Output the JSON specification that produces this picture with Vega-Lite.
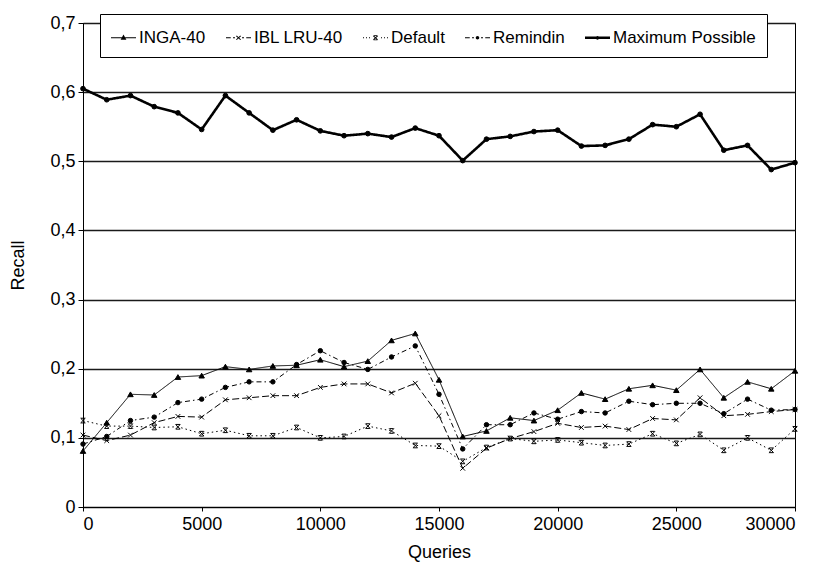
{
  "$schema": "https://vega.github.io/schema/vega-lite/v6.json",
  "width": 712,
  "height": 484,
  "autosize": "none",
  "padding": {"left": 83, "top": 23, "right": 30, "bottom": 60},
  "background": "white",
  "config": {
    "view": {"stroke": "black", "strokeWidth": 1},
    "font": "Liberation Sans",
    "axis": {
      "labelFont": "Liberation Sans", "titleFont": "Liberation Sans",
      "labelFontSize": 18, "titleFontSize": 18, "titleFontWeight": "normal",
      "labelColor": "black", "titleColor": "black",
      "domainColor": "black", "tickColor": "black", "tickSize": 5
    }
  },
  "data": {"values": [
    {"q":0,"s":"INGA-40","v":0.081},{"q":1000,"s":"INGA-40","v":0.122},{"q":2000,"s":"INGA-40","v":0.163},{"q":3000,"s":"INGA-40","v":0.162},{"q":4000,"s":"INGA-40","v":0.188},{"q":5000,"s":"INGA-40","v":0.190},{"q":6000,"s":"INGA-40","v":0.203},{"q":7000,"s":"INGA-40","v":0.199},{"q":8000,"s":"INGA-40","v":0.204},{"q":9000,"s":"INGA-40","v":0.205},{"q":10000,"s":"INGA-40","v":0.213},{"q":11000,"s":"INGA-40","v":0.203},{"q":12000,"s":"INGA-40","v":0.211},{"q":13000,"s":"INGA-40","v":0.241},{"q":14000,"s":"INGA-40","v":0.251},{"q":15000,"s":"INGA-40","v":0.184},{"q":16000,"s":"INGA-40","v":0.102},{"q":17000,"s":"INGA-40","v":0.110},{"q":18000,"s":"INGA-40","v":0.129},{"q":19000,"s":"INGA-40","v":0.125},{"q":20000,"s":"INGA-40","v":0.140},{"q":21000,"s":"INGA-40","v":0.165},{"q":22000,"s":"INGA-40","v":0.156},{"q":23000,"s":"INGA-40","v":0.171},{"q":24000,"s":"INGA-40","v":0.176},{"q":25000,"s":"INGA-40","v":0.169},{"q":26000,"s":"INGA-40","v":0.199},{"q":27000,"s":"INGA-40","v":0.158},{"q":28000,"s":"INGA-40","v":0.181},{"q":29000,"s":"INGA-40","v":0.171},{"q":30000,"s":"INGA-40","v":0.197},
    {"q":0,"s":"IBL LRU-40","v":0.104},{"q":1000,"s":"IBL LRU-40","v":0.096},{"q":2000,"s":"IBL LRU-40","v":0.104},{"q":3000,"s":"IBL LRU-40","v":0.122},{"q":4000,"s":"IBL LRU-40","v":0.131},{"q":5000,"s":"IBL LRU-40","v":0.130},{"q":6000,"s":"IBL LRU-40","v":0.155},{"q":7000,"s":"IBL LRU-40","v":0.158},{"q":8000,"s":"IBL LRU-40","v":0.161},{"q":9000,"s":"IBL LRU-40","v":0.161},{"q":10000,"s":"IBL LRU-40","v":0.173},{"q":11000,"s":"IBL LRU-40","v":0.178},{"q":12000,"s":"IBL LRU-40","v":0.178},{"q":13000,"s":"IBL LRU-40","v":0.165},{"q":14000,"s":"IBL LRU-40","v":0.179},{"q":15000,"s":"IBL LRU-40","v":0.132},{"q":16000,"s":"IBL LRU-40","v":0.056},{"q":17000,"s":"IBL LRU-40","v":0.085},{"q":18000,"s":"IBL LRU-40","v":0.099},{"q":19000,"s":"IBL LRU-40","v":0.109},{"q":20000,"s":"IBL LRU-40","v":0.121},{"q":21000,"s":"IBL LRU-40","v":0.115},{"q":22000,"s":"IBL LRU-40","v":0.117},{"q":23000,"s":"IBL LRU-40","v":0.112},{"q":24000,"s":"IBL LRU-40","v":0.128},{"q":25000,"s":"IBL LRU-40","v":0.126},{"q":26000,"s":"IBL LRU-40","v":0.158},{"q":27000,"s":"IBL LRU-40","v":0.132},{"q":28000,"s":"IBL LRU-40","v":0.134},{"q":29000,"s":"IBL LRU-40","v":0.138},{"q":30000,"s":"IBL LRU-40","v":0.141},
    {"q":0,"s":"Default","v":0.125},{"q":1000,"s":"Default","v":0.117},{"q":2000,"s":"Default","v":0.117},{"q":3000,"s":"Default","v":0.115},{"q":4000,"s":"Default","v":0.116},{"q":5000,"s":"Default","v":0.106},{"q":6000,"s":"Default","v":0.111},{"q":7000,"s":"Default","v":0.103},{"q":8000,"s":"Default","v":0.103},{"q":9000,"s":"Default","v":0.115},{"q":10000,"s":"Default","v":0.100},{"q":11000,"s":"Default","v":0.102},{"q":12000,"s":"Default","v":0.117},{"q":13000,"s":"Default","v":0.110},{"q":14000,"s":"Default","v":0.089},{"q":15000,"s":"Default","v":0.088},{"q":16000,"s":"Default","v":0.066},{"q":17000,"s":"Default","v":0.086},{"q":18000,"s":"Default","v":0.099},{"q":19000,"s":"Default","v":0.095},{"q":20000,"s":"Default","v":0.097},{"q":21000,"s":"Default","v":0.093},{"q":22000,"s":"Default","v":0.089},{"q":23000,"s":"Default","v":0.091},{"q":24000,"s":"Default","v":0.106},{"q":25000,"s":"Default","v":0.092},{"q":26000,"s":"Default","v":0.105},{"q":27000,"s":"Default","v":0.082},{"q":28000,"s":"Default","v":0.100},{"q":29000,"s":"Default","v":0.082},{"q":30000,"s":"Default","v":0.113},
    {"q":0,"s":"Remindin","v":0.091},{"q":1000,"s":"Remindin","v":0.102},{"q":2000,"s":"Remindin","v":0.125},{"q":3000,"s":"Remindin","v":0.130},{"q":4000,"s":"Remindin","v":0.151},{"q":5000,"s":"Remindin","v":0.156},{"q":6000,"s":"Remindin","v":0.173},{"q":7000,"s":"Remindin","v":0.181},{"q":8000,"s":"Remindin","v":0.181},{"q":9000,"s":"Remindin","v":0.206},{"q":10000,"s":"Remindin","v":0.226},{"q":11000,"s":"Remindin","v":0.209},{"q":12000,"s":"Remindin","v":0.199},{"q":13000,"s":"Remindin","v":0.217},{"q":14000,"s":"Remindin","v":0.233},{"q":15000,"s":"Remindin","v":0.163},{"q":16000,"s":"Remindin","v":0.084},{"q":17000,"s":"Remindin","v":0.119},{"q":18000,"s":"Remindin","v":0.119},{"q":19000,"s":"Remindin","v":0.136},{"q":20000,"s":"Remindin","v":0.127},{"q":21000,"s":"Remindin","v":0.138},{"q":22000,"s":"Remindin","v":0.136},{"q":23000,"s":"Remindin","v":0.153},{"q":24000,"s":"Remindin","v":0.148},{"q":25000,"s":"Remindin","v":0.150},{"q":26000,"s":"Remindin","v":0.150},{"q":27000,"s":"Remindin","v":0.135},{"q":28000,"s":"Remindin","v":0.156},{"q":29000,"s":"Remindin","v":0.140},{"q":30000,"s":"Remindin","v":0.141},
    {"q":0,"s":"Maximum Possible","v":0.605},{"q":1000,"s":"Maximum Possible","v":0.589},{"q":2000,"s":"Maximum Possible","v":0.595},{"q":3000,"s":"Maximum Possible","v":0.579},{"q":4000,"s":"Maximum Possible","v":0.570},{"q":5000,"s":"Maximum Possible","v":0.546},{"q":6000,"s":"Maximum Possible","v":0.595},{"q":7000,"s":"Maximum Possible","v":0.570},{"q":8000,"s":"Maximum Possible","v":0.545},{"q":9000,"s":"Maximum Possible","v":0.560},{"q":10000,"s":"Maximum Possible","v":0.544},{"q":11000,"s":"Maximum Possible","v":0.537},{"q":12000,"s":"Maximum Possible","v":0.540},{"q":13000,"s":"Maximum Possible","v":0.535},{"q":14000,"s":"Maximum Possible","v":0.548},{"q":15000,"s":"Maximum Possible","v":0.537},{"q":16000,"s":"Maximum Possible","v":0.501},{"q":17000,"s":"Maximum Possible","v":0.532},{"q":18000,"s":"Maximum Possible","v":0.536},{"q":19000,"s":"Maximum Possible","v":0.543},{"q":20000,"s":"Maximum Possible","v":0.545},{"q":21000,"s":"Maximum Possible","v":0.522},{"q":22000,"s":"Maximum Possible","v":0.523},{"q":23000,"s":"Maximum Possible","v":0.532},{"q":24000,"s":"Maximum Possible","v":0.553},{"q":25000,"s":"Maximum Possible","v":0.550},{"q":26000,"s":"Maximum Possible","v":0.568},{"q":27000,"s":"Maximum Possible","v":0.516},{"q":28000,"s":"Maximum Possible","v":0.523},{"q":29000,"s":"Maximum Possible","v":0.488},{"q":30000,"s":"Maximum Possible","v":0.498}
  ]},
  "encoding": {
    "x": {"field": "q", "type": "quantitative", "title": "Queries",
      "scale": {"domain": [0, 30000], "nice": false},
      "axis": {"values": [0,5000,10000,15000,20000,25000,30000], "format": "d", "grid": false, "tickSize": 4, "labelPadding": 4, "titlePadding": 10}},
    "y": {"field": "v", "type": "quantitative", "title": "Recall",
      "scale": {"domain": [0, 0.7], "nice": false},
      "axis": {"values": [0,0.1,0.2,0.3,0.4,0.5,0.6,0.7], "grid": true, "gridColor": "#1a1a1a", "gridWidth": 1.3,
        "labelExpr": "datum.value == 0 ? '0' : replace(format(datum.value, '.1f'), '.', ',')",
        "labelPadding": 3, "titlePadding": 22}}
  },
  "resolve": {"scale": {"shape": "independent", "size": "independent"}},
  "layer": [
    {
      "mark": {"type": "line", "color": "black"},
      "encoding": {
        "detail": {"field": "s"},
        "strokeDash": {"field": "s", "legend": null,
          "scale": {"domain": ["INGA-40","IBL LRU-40","Default","Remindin","Maximum Possible"],
            "range": [[1,0],[7,3],[1.5,3],[5,3,1.5,3],[1,0]]}},
        "strokeWidth": {"field": "s", "legend": null,
          "scale": {"type": "ordinal", "domain": ["INGA-40","IBL LRU-40","Default","Remindin","Maximum Possible"],
            "range": [1,1,1,1,2.6]}}
      }
    },
    {
      "mark": {"type": "point", "filled": true, "color": "black", "stroke": "black", "strokeWidth": 1, "opacity": 1},
      "encoding": {
        "shape": {"field": "s", "legend": null,
          "scale": {"domain": ["INGA-40","IBL LRU-40","Default","Remindin","Maximum Possible"],
            "range": ["triangle-up","M-1,-1L1,1M-1,1L1,-1","M-1,-1L1,1M-1,1L1,-1M-0.9,-1H0.9M-0.9,1H0.9","circle","circle"]}},
        "size": {"field": "s", "legend": null,
          "scale": {"type": "ordinal", "domain": ["INGA-40","IBL LRU-40","Default","Remindin","Maximum Possible"],
            "range": [30,22,22,20,22]}}
      }
    },
    {
      "mark": {"type": "point", "filled": true, "color": "black", "opacity": 0},
      "encoding": {
        "shape": {"field": "s", "title": null,
          "legend": {"orient": "none", "legendX": 17, "legendY": -9, "direction": "horizontal", "columns": 5,
            "fillColor": "white", "strokeColor": "black", "padding": 11,
            "labelFont": "Liberation Sans", "labelFontSize": 17, "labelColor": "black", "labelOffset": 3,
            "columnPadding": 20, "symbolSize": 625, "symbolStrokeWidth": 0, "symbolOpacity": 1,
            "symbolFillColor": "black", "symbolStrokeColor": "black", "labelLimit": 300,
            "encode": {"symbols": {"update": {
              "fill": {"value": "black"}, "opacity": {"value": 1}, "fillOpacity": {"value": 1}}}}},
          "scale": {"domain": ["INGA-40","IBL LRU-40","Default","Remindin","Maximum Possible"],
            "range": [
              "M-1,-0.04H1V0.04H-1ZM0,-0.26L0.23,0.15H-0.23Z",
              "M-1,-0.04H-0.62V0.04H-1ZM-0.44,-0.04H-0.28V0.04H-0.44ZM-0.2,-0.13L-0.14,-0.18L0.2,0.13L0.14,0.18ZM-0.2,0.13L0.14,-0.18L0.2,-0.13L-0.14,0.18ZM0.28,-0.04H0.44V0.04H0.28ZM0.62,-0.04H1V0.04H0.62Z",
              "M-1,-0.04H-0.92V0.04H-1ZM-0.76,-0.04H-0.68V0.04H-0.76ZM-0.52,-0.04H-0.44V0.04H-0.52ZM-0.2,-0.13L-0.14,-0.18L0.2,0.13L0.14,0.18ZM-0.2,0.13L0.14,-0.18L0.2,-0.13L-0.14,0.18ZM-0.16,-0.2H0.16V-0.14H-0.16ZM-0.16,0.14H0.16V0.2H-0.16ZM0.44,-0.04H0.52V0.04H0.44ZM0.68,-0.04H0.76V0.04H0.68ZM0.92,-0.04H1V0.04H0.92Z",
              "M-1,-0.04H-0.62V0.04H-1ZM-0.44,-0.04H-0.28V0.04H-0.44ZM-0.14,0A0.14,0.14 0 1,1 0.14,0A0.14,0.14 0 1,1 -0.14,0ZM0.28,-0.04H0.44V0.04H0.28ZM0.62,-0.04H1V0.04H0.62Z",
              "M-1,-0.1H1V0.1H-1ZM-0.15,0A0.15,0.15 0 1,1 0.15,0A0.15,0.15 0 1,1 -0.15,0Z"
            ]}},
        "size": {"value": 625}
      }
    }
  ]
}
